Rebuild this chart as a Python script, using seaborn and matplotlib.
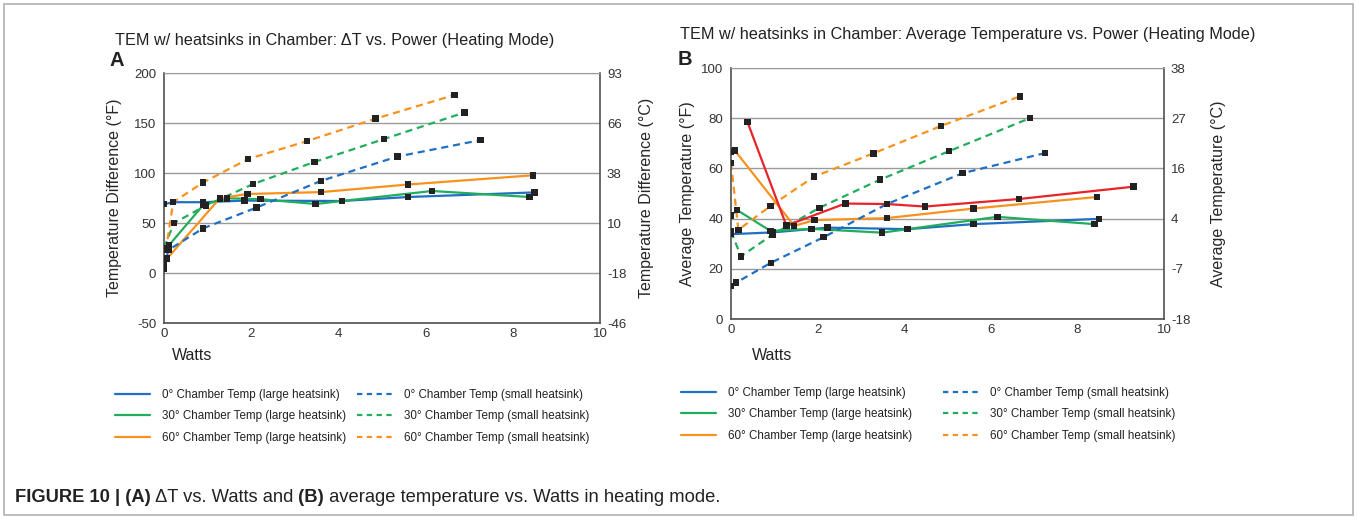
import matplotlib
matplotlib.use('Agg')
import matplotlib.pyplot as plt
import seaborn as sns
from matplotlib.lines import Line2D
from matplotlib.patches import Rectangle

# ---- panel A: delta T (F) vs watts ----
a_large0_x = [0, 0.21, 0.9, 1.85, 4.08, 5.6, 8.5]
a_large0_y = [68.8, 70.8, 70.8, 72.4, 72, 76, 80.6]
a_large30_x = [0, 0.11, 0.9, 1.45, 2.21, 3.48, 4.08, 6.15, 8.38]
a_large30_y = [23.5, 27.5, 68, 74.7, 73.8, 69, 72, 82, 76]
a_large60_x = [0, 0.07, 1.28, 1.91, 3.6, 5.6, 8.46]
a_large60_y = [13.7, 14.4, 74.7, 79, 80.9, 88.5, 97.7]
a_small0_x = [0, 0.1, 0.9, 2.12, 3.6, 5.35, 7.26]
a_small0_y = [4.4, 23, 44.7, 65.4, 92.1, 116.4, 132.9]
a_small30_x = [0, 0.23, 0.96, 2.04, 3.45, 5.05, 6.89]
a_small30_y = [25.2, 50, 67.4, 88.9, 111, 134, 160.5]
a_small60_x = [0, 0.21, 0.9, 1.93, 3.28, 4.85, 6.66]
a_small60_y = [10, 70.8, 90.6, 114, 131.9, 154.3, 178]

# ---- panel B: average temperature (F) vs watts ----
b_large0_x = [0, 0.96, 2.23, 4.08, 5.6, 8.5]
b_large0_y = [33.8, 34.5, 36.4, 35.8, 37.8, 39.9]
b_large30_x = [0, 0.14, 0.91, 1.86, 3.49, 4.08, 6.15, 8.39]
b_large30_y = [41.2, 43.4, 35.1, 35.9, 34.4, 35.8, 40.7, 37.8]
b_large60_x = [0, 0.09, 1.46, 1.93, 3.6, 5.6, 8.45]
b_large60_y = [66.7, 67.1, 37.1, 39.4, 40.2, 44, 48.6]
b_small0_x = [0, 0.12, 0.92, 2.14, 3.6, 5.35, 7.25]
b_small0_y = [13.2, 14.5, 22.4, 32.6, 45.8, 58.1, 66.1]
b_small30_x = [0, 0.23, 0.96, 2.04, 3.44, 5.04, 6.9]
b_small30_y = [34.9, 25, 33.6, 44.3, 55.5, 66.9, 80]
b_small60_x = [0, 0.17, 0.91, 1.92, 3.29, 4.85, 6.67]
b_small60_y = [62.2, 35.5, 45, 56.7, 66, 76.9, 88.7]
b_red_x = [0.38, 1.28, 2.64, 3.6, 4.48, 6.65, 9.29]
b_red_y = [78.5, 37.2, 46, 45.8, 44.8, 47.8, 52.7]

large_labels = ["0° Chamber Temp (large heatsink)", "30° Chamber Temp (large heatsink)",
                "60° Chamber Temp (large heatsink)"]
small_labels = ["0° Chamber Temp (small heatsink)", "30° Chamber Temp (small heatsink)",
                "60° Chamber Temp (small heatsink)"]

BLUE, GREEN, ORANGE, RED = '#1f6fc2', '#22ad5c', '#f7921e', '#e8232a'
GRID = '#9a9a9a'
SPINE = '#505050'

sns.set_style('white')
plt.rcParams['font.family'] = ['Liberation Sans', 'DejaVu Sans']
plt.rcParams['text.color'] = '#222222'
plt.rcParams['axes.unicode_minus'] = False

fig = plt.figure(figsize=(13.57, 5.19), dpi=100)
W, H = 1357, 519


def px_axes(l, t, r, b):
    return fig.add_axes([l / W, 1 - b / H, (r - l) / W, (b - t) / H])


def draw_panel(ax, series, red, yticks, ylab_f, ylab_c, lx, rx):
    for xs, ys, col, ls in series:
        sns.lineplot(x=xs, y=ys, ax=ax, color=col, lw=1.6, sort=False, estimator=None)
        if ls != '-':
            ax.lines[-1].set_dashes([3.2, 2.2])
    allx, ally = [], []
    for xs, ys, _, _ in series:
        allx += xs
        ally += ys
    if red is not None:
        sns.lineplot(x=red[0], y=red[1], ax=ax, color=RED, lw=1.6, sort=False, estimator=None)
        allx += red[0]
        ally += red[1]
    sns.scatterplot(x=allx, y=ally, ax=ax, marker='s', s=22, color='#222222',
                    edgecolor='none', zorder=5)
    ax.set_xlim(0, 10)
    ax.set_ylim(yticks[0], yticks[-1])
    ax.set_xticks(range(0, 11, 2))
    ax.set_yticks(yticks)
    ax.grid(axis='y', color=GRID, lw=1)
    ax.grid(axis='x', visible=False)
    for s in ['left', 'bottom', 'right']:
        ax.spines[s].set_color(SPINE)
        ax.spines[s].set_linewidth(1.2)
    ax.spines['top'].set_color(GRID)
    ax.tick_params(axis='y', labelsize=9.5, length=0, pad=5.5, colors='#333333')
    ax.tick_params(axis='x', labelsize=9.5, length=0, pad=3.5, colors='#333333')
    ax.set_ylabel(ylab_f, fontsize=11.5)
    ax.yaxis.set_label_coords(lx, 0.5)
    ax.set_xlabel('')
    ax2 = ax.twinx()
    ax2.set_ylim(yticks[0], yticks[-1])
    ax2.set_yticks(yticks)
    ax2.set_yticklabels([str(round((t - 32) * 5 / 9)) for t in yticks])
    ax2.tick_params(axis='y', labelsize=9.5, length=0, pad=5, colors='#333333')
    for s in ax2.spines.values():
        s.set_visible(False)
    ax2.set_ylabel(ylab_c, fontsize=11.5)
    ax2.yaxis.set_label_coords(rx, 0.5)
    ax2.grid(False)
    return ax2


axA = px_axes(164, 73, 600, 323)
seriesA = [(a_large0_x, a_large0_y, BLUE, '-'), (a_large30_x, a_large30_y, GREEN, '-'),
           (a_large60_x, a_large60_y, ORANGE, '-'), (a_small0_x, a_small0_y, BLUE, '--'),
           (a_small30_x, a_small30_y, GREEN, '--'), (a_small60_x, a_small60_y, ORANGE, '--')]
draw_panel(axA, seriesA, None, [-50, 0, 50, 100, 150, 200],
           'Temperature Difference (°F)', 'Temperature Difference (°C)',
           (122 - 164) / 436, (639 - 164) / 436)

axB = px_axes(731, 68, 1164, 319)
seriesB = [(b_large0_x, b_large0_y, BLUE, '-'), (b_large30_x, b_large30_y, GREEN, '-'),
           (b_large60_x, b_large60_y, ORANGE, '-'), (b_small0_x, b_small0_y, BLUE, '--'),
           (b_small30_x, b_small30_y, GREEN, '--'), (b_small60_x, b_small60_y, ORANGE, '--')]
draw_panel(axB, seriesB, (b_red_x, b_red_y), [0, 20, 40, 60, 80, 100],
           'Average Temperature (°F)', 'Average Temperature (°C)',
           (695 - 731) / 433, (1211 - 731) / 433)

# titles, panel letters, x labels
fig.text(115 / W, 1 - 40 / H, 'TEM w/ heatsinks in Chamber: \u0394T vs. Power (Heating Mode)',
         fontsize=11.7, va='center', ha='left')
fig.text(680 / W, 1 - 35 / H, 'TEM w/ heatsinks in Chamber: Average Temperature vs. Power (Heating Mode)',
         fontsize=11.7, va='center', ha='left')
fig.text(110 / W, 1 - 61 / H, 'A', fontsize=14.5, fontweight='bold', va='center', ha='left')
fig.text(678 / W, 1 - 60 / H, 'B', fontsize=14.5, fontweight='bold', va='center', ha='left')
fig.text(172 / W, 1 - 356 / H, 'Watts', fontsize=11.5, va='center', ha='left')
fig.text(752 / W, 1 - 355 / H, 'Watts', fontsize=11.5, va='center', ha='left')

# legends: one column each, placed by pixel
solid = [Line2D([], [], color=c, lw=1.6) for c in (BLUE, GREEN, ORANGE)]
dashed = [Line2D([], [], color=c, lw=1.6, ls=(0, (2.4, 2))) for c in (BLUE, GREEN, ORANGE)]
for hs, labs, lx, ly in [(solid, large_labels, 115, 389), (dashed, small_labels, 357, 389),
                         (solid, large_labels, 681, 387), (dashed, small_labels, 943, 387)]:
    fig.legend(hs, labs, frameon=False, fontsize=8.4, loc='upper left',
               bbox_to_anchor=(lx / W, 1 - ly / H), borderaxespad=0, borderpad=0,
               handlelength=3.0, handletextpad=1.0, labelspacing=0.8)

# caption with mixed weights
renderer = fig.canvas.get_renderer()
cx = 15 / W
for txt, wt in [('FIGURE 10 | (A)', 'bold'), (' \u0394T vs. Watts and', 'normal'),
                (' (B)', 'bold'), (' average temperature vs. Watts in heating mode.', 'normal')]:
    t = fig.text(cx, 1 - 497 / H, txt, fontsize=13.2, fontweight=wt, va='center', ha='left')
    cx += t.get_window_extent(renderer).width / W

# outer frame
fig.add_artist(Rectangle((4 / W, 4 / H), 1 - 8 / W, 1 - 8 / H, transform=fig.transFigure,
                         fill=False, edgecolor='#b0b0b0', lw=1.2))

fig.savefig('out.png', dpi=100)
